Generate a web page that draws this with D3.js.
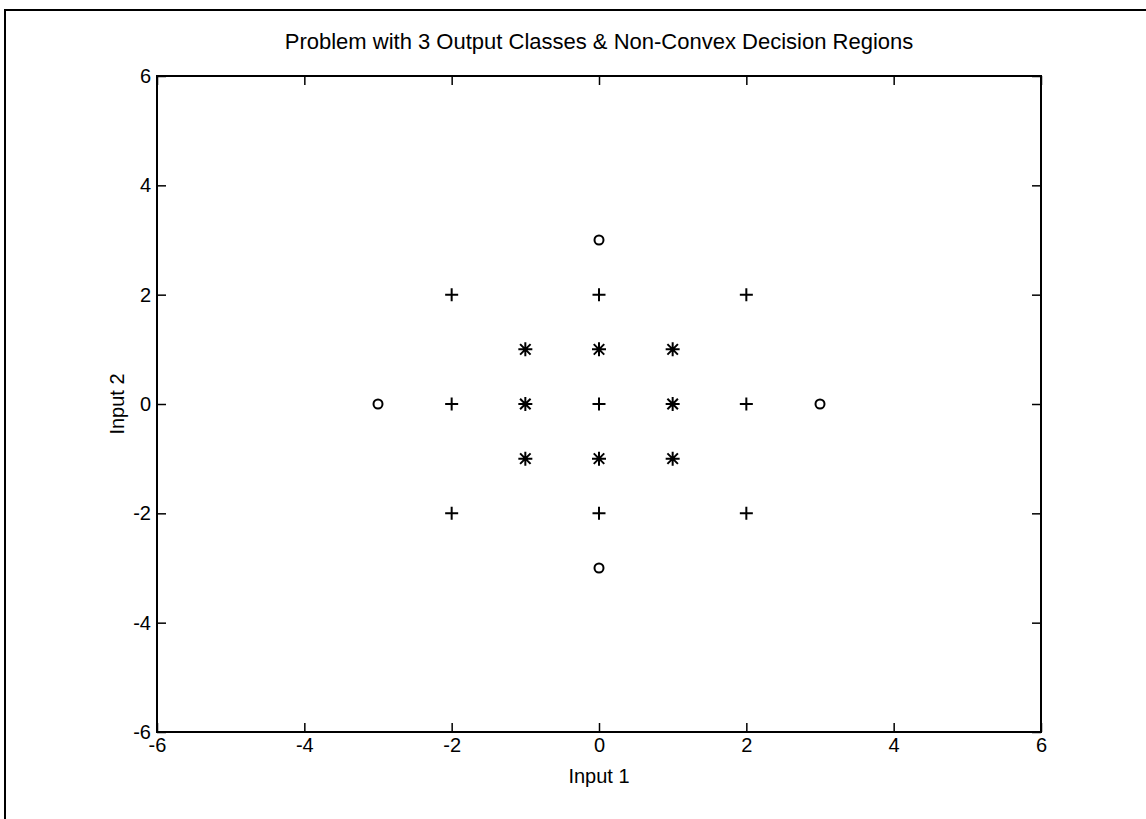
<!DOCTYPE html>
<html>
<head>
<meta charset="utf-8">
<script src="https://cdn.jsdelivr.net/npm/d3@7"></script>
<style>
    body { margin: 0; background: white; }
    svg { display: block; }
</style>
</head>
<body>
<svg id="chart" width="1146" height="819"></svg>
<script>
// class data
const circlePts = [[0, 3], [-3, 0], [3, 0], [0, -3]]
const plusPts = [[-2, 2], [0, 2], [2, 2], [-2, 0], [0, 0], [2, 0], [-2, -2], [0, -2], [2, -2]]
const starPts = [[-1, 1], [0, 1], [1, 1], [-1, 0], [1, 0], [-1, -1], [0, -1], [1, -1]]
const xTicks = [-6, -4, -2, 0, 2, 4, 6]
const yTicks = [-6, -4, -2, 0, 2, 4, 6]

const titleText = "Problem with 3 Output Classes & Non-Convex Decision Regions"
const xLabel = "Input 1"
const yLabel = "Input 2"

const plot = {left: 157, right: 1041, top: 76, bottom: 732}
const fontFam = "'Liberation Sans', Arial, Helvetica, sans-serif"
const tickLen = 9
const tickFmt = d => d < 0 ? "-" + Math.abs(d) : `${d}`

const svg = d3.select("#chart")

const x = d3.scaleLinear().domain([-6, 6]).range([plot.left, plot.right])
const y = d3.scaleLinear().domain([-6, 6]).range([plot.bottom, plot.top])

// outer frame (only top and left edges show)
svg.append("path")
    .attr("d", `M 5 819 L 5 10 L 1146 10`)
    .attr("fill", "none")
    .attr("stroke", "black")
    .attr("stroke-width", 2)

// axes: bottom/left with labels, top/right ticks only
const xAxisB = svg.append("g")
    .attr("transform", `translate(0,${plot.bottom})`)
    .call(d3.axisBottom(x).tickValues(xTicks).tickSizeInner(-tickLen).tickSizeOuter(0).tickPadding(6).tickFormat(tickFmt))
svg.append("g")
    .attr("transform", `translate(0,${plot.top})`)
    .call(d3.axisTop(x).tickValues(xTicks).tickSizeInner(-tickLen).tickSizeOuter(0).tickFormat(""))
const yAxisL = svg.append("g")
    .attr("transform", `translate(${plot.left},0)`)
    .call(d3.axisLeft(y).tickValues(yTicks).tickSizeInner(-tickLen).tickSizeOuter(0).tickPadding(6).tickFormat(tickFmt))
svg.append("g")
    .attr("transform", `translate(${plot.right},0)`)
    .call(d3.axisRight(y).tickValues(yTicks).tickSizeInner(-tickLen).tickSizeOuter(0).tickFormat(""))

svg.selectAll(".domain").remove()
svg.selectAll(".tick line")
    .attr("stroke", "black")
    .attr("stroke-width", 1.5)
svg.selectAll(".tick text")
    .attr("fill", "black")
    .attr("font-family", fontFam)
    .attr("font-size", "20px")

svg.append("rect")
    .attr("x", plot.left)
    .attr("y", plot.top)
    .attr("width", plot.right - plot.left)
    .attr("height", plot.bottom - plot.top)
    .attr("fill", "none")
    .attr("stroke", "black")
    .attr("stroke-width", 2)

// labels
svg.append("text")
    .attr("x", (plot.left + plot.right) / 2)
    .attr("y", 49)
    .attr("text-anchor", "middle")
    .attr("font-family", fontFam)
    .attr("font-size", "22px")
    .text(titleText)
svg.append("text")
    .attr("x", (plot.left + plot.right) / 2)
    .attr("y", 783)
    .attr("text-anchor", "middle")
    .attr("font-family", fontFam)
    .attr("font-size", "20px")
    .text(xLabel)
svg.append("text")
    .attr("transform", `translate(124,${(plot.top + plot.bottom) / 2}) rotate(-90)`)
    .attr("text-anchor", "middle")
    .attr("font-family", fontFam)
    .attr("font-size", "20px")
    .text(yLabel)

// markers
const marks = svg.append("g")
    .attr("fill", "none")
    .attr("stroke", "black")
    .attr("stroke-width", 2)

function plusPath(cx, cy, s) {
    return `M ${cx - s} ${cy} L ${cx + s} ${cy} M ${cx} ${cy - s} L ${cx} ${cy + s}`
}
function starPath(cx, cy, s) {
    const d = s * 0.75
    return plusPath(cx, cy, s) +
        ` M ${cx - d} ${cy - d} L ${cx + d} ${cy + d} M ${cx - d} ${cy + d} L ${cx + d} ${cy - d}`
}

marks.selectAll("circle")
    .data(circlePts)
    .enter()
    .append("circle")
    .attr("cx", d => x(d[0]))
    .attr("cy", d => y(d[1]))
    .attr("r", 4.5)

marks.selectAll("path.plus")
    .data(plusPts)
    .enter()
    .append("path")
    .attr("class", "plus")
    .attr("d", d => plusPath(x(d[0]), y(d[1]), 6.5))

marks.selectAll("path.star")
    .data(starPts)
    .enter()
    .append("path")
    .attr("class", "star")
    .attr("d", d => starPath(x(d[0]), y(d[1]), 7))
</script>
</body>
</html>
